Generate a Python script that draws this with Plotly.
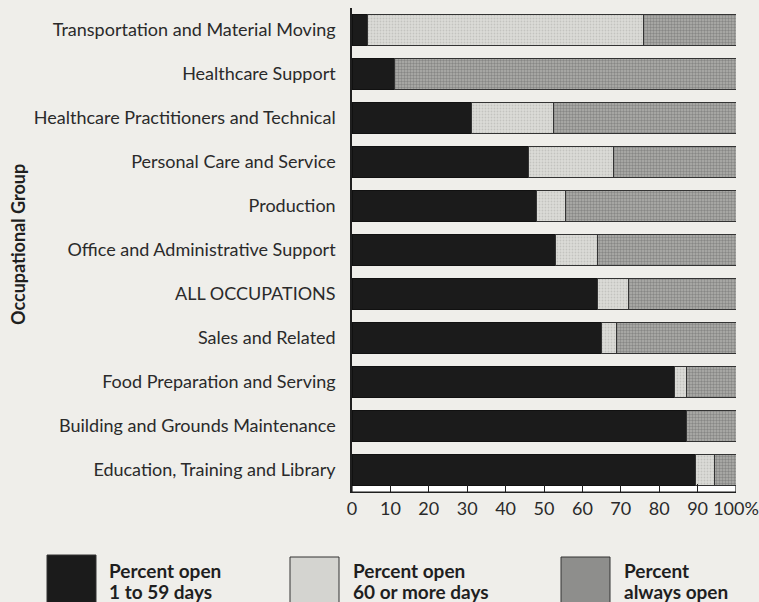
import plotly.graph_objects as go

categories = [
    "Transportation and Material Moving",
    "Healthcare Support",
    "Healthcare Practitioners and Technical",
    "Personal Care and Service",
    "Production",
    "Office and Administrative Support",
    "ALL OCCUPATIONS",
    "Sales and Related",
    "Food Preparation and Serving",
    "Building and Grounds Maintenance",
    "Education, Training and Library",
]
open_1_59 = [4, 11, 31, 46, 48, 53, 64, 65, 84, 87, 89.5]
open_60_plus = [72, 0, 21.5, 22, 7.5, 11, 8, 4, 3, 0, 5]
always_open = [24, 89, 47.5, 32, 44.5, 36, 28, 31, 13, 13, 5.5]
series_names = ["Percent open 1 to 59 days", "Percent open 60 or more days", "Percent always open"]
legend_lines = [
    ["Percent open", "1 to 59 days"],
    ["Percent open", "60 or more days"],
    ["Percent", "always open"],
]
tick_vals = [0, 10, 20, 30, 40, 50, 60, 70, 80, 90, 100]
tick_text = ["0", "10", "20", "30", "40", "50", "60", "70", "80", "90", "100%"]
axis_title = "Occupational Group"

BG = "#efeeea"
INK = "#1f1f1f"
FONT = "Lato"

# plot area in pixels
W, H = 759, 602
L, R, T, B = 352, 23, 8, 110
PW, PH = W - L - R, H - T - B


def px_x(p):
    return (p - L) / PW


def px_y(p):
    return (H - B - p) / PH


fig = go.Figure()
fig.add_trace(go.Bar(
    y=categories, x=open_1_59, orientation="h", name=series_names[0],
    marker=dict(color="#1b1b1b", line=dict(color="#111111", width=1)),
))
fig.add_trace(go.Bar(
    y=categories, x=open_60_plus, orientation="h", name=series_names[1],
    marker=dict(color="#dcdcd8", line=dict(color="#333333", width=1),
                pattern=dict(shape=".", fgcolor="#a9a9a6", bgcolor="#dcdcd8", size=3, solidity=0.3)),
))
fig.add_trace(go.Bar(
    y=categories, x=always_open, orientation="h", name=series_names[2],
    marker=dict(color="#a4a4a2", line=dict(color="#333333", width=1),
                pattern=dict(shape=".", fgcolor="#5e5e5e", bgcolor="#b0b0ad", size=3, solidity=0.5)),
))

shapes = [
    # tick band below the bars
    dict(type="rect", xref="x", yref="paper", x0=0, x1=100, y0=0, y1=8 / PH,
         fillcolor="white", line=dict(color=INK, width=1.2), layer="below"),
]
annotations = [
    dict(text="<b>" + axis_title + "</b>", xref="paper", yref="paper",
         x=px_x(18), y=px_y(245), textangle=-90, showarrow=False,
         font=dict(family=FONT, size=18, color=INK), xanchor="center", yanchor="middle"),
]
swatch_fill = ["#1b1b1b", "#d4d4d0", "#8e8e8c"]
swatch_x = [47, 290, 561]
swatch_top = [555, 557, 557]
text_x = [107, 351, 622]
for i in range(3):
    shapes.append(dict(type="rect", xref="paper", yref="paper",
                       x0=px_x(swatch_x[i]), x1=px_x(swatch_x[i] + 49),
                       y0=px_y(swatch_top[i]), y1=px_y(610),
                       fillcolor=swatch_fill[i], line=dict(color="#333333", width=1)))
    for j, line in enumerate(legend_lines[i]):
        annotations.append(dict(text="<b>" + line + "</b>", xref="paper", yref="paper",
                                x=px_x(text_x[i]), y=px_y(570 + 21 * j),
                                showarrow=False, xanchor="left", yanchor="middle",
                                font=dict(family=FONT, size=19, color=INK)))

fig.update_layout(
    width=W, height=H,
    margin=dict(l=L, r=R, t=T, b=B, pad=0),
    barmode="stack", bargap=0.3,
    showlegend=False,
    paper_bgcolor=BG, plot_bgcolor=BG,
    font=dict(family=FONT, color=INK),
    shapes=shapes, annotations=annotations,
)
fig.update_xaxes(
    range=[0, 100], tickvals=tick_vals, ticktext=tick_text, automargin=False,
    showgrid=False, zeroline=False, showline=True, linecolor=INK, linewidth=1.2,
    ticks="inside", ticklen=8, tickcolor=INK, tickwidth=1.2,
    tickfont=dict(family=FONT, size=18, color="#2a2a2a"),
)
fig.update_yaxes(
    autorange="reversed", showgrid=False, zeroline=False, automargin=False,
    showline=True, linecolor=INK, linewidth=1.5,
    ticks="", ticklabelstandoff=11,
    tickfont=dict(family=FONT, size=18, color="#2a2a2a"),
)

fig.write_html(
    "out.html",
    config={"displayModeBar": False},
    post_script="document.body.style.margin='0';document.body.style.overflow='hidden';",
)
